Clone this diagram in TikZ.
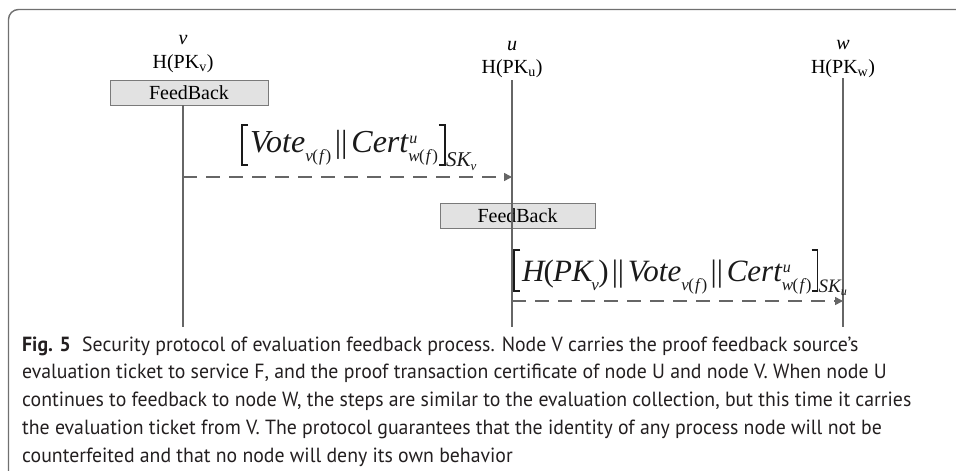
\documentclass[tikz,border=0pt]{standalone}
\usepackage{fontspec}
\setmainfont{Liberation Serif}
\newfontfamily\capfont[FakeStretch=0.965]{PT Sans}
\usetikzlibrary{arrows.meta}

\definecolor{framegray}{HTML}{707070}
\definecolor{linegray}{HTML}{666666}
\definecolor{boxedge}{HTML}{7A7A7A}
\definecolor{boxfill}{HTML}{E2E2E2}
\definecolor{captext}{HTML}{231F20}
\definecolor{inkgray}{HTML}{1A1A1A}

% small lowered / raised pieces of the message formulas
\newcommand{\lowpart}[1]{\raisebox{-0.3em}{\fontsize{17}{17}\selectfont #1}}
\newcommand{\highlow}[2]{\rlap{\raisebox{0.26em}{\fontsize{16}{16}\selectfont\hspace{1pt}#1}}\raisebox{-0.3em}{\fontsize{17}{17}\selectfont #2}}
\newcommand{\lp}{\kern-0.03em{\upshape(}\kern-0.03em}
\newcommand{\rp}{\kern-0.02em{\upshape)}\kern-0.02em}
\newcommand{\fpar}{\lp\hspace{0.1em}f\hspace{0.12em}\rp}
\newcommand{\cat}{{\upshape\hspace{0.12em}||\hspace{0.12em}}}

\tikzset{
  frame/.style={draw=framegray, line width=1.4pt, rounded corners=10pt},
  life/.style={draw=linegray, line width=2pt},
  boxstyle/.style={draw=boxedge, fill=boxfill, line width=0.9pt,
    minimum height=25pt, inner sep=0pt, font=\fontsize{20}{22}\selectfont},
  lbl/.style={inner sep=0pt, font=\fontsize{20}{22}\selectfont},
  msg/.style={draw=linegray, line width=1.6pt, dash pattern=on 14pt off 9pt,
    -{Triangle[length=8pt,width=8pt]}},
  formula/.style={anchor=base west, inner sep=0pt, text=inkgray,
    font=\fontsize{32}{33}\selectfont\itshape},
  keypart/.style={anchor=base west, inner sep=0pt, text=inkgray,
    font=\fontsize{21}{21}\selectfont\itshape},
  brk/.style={draw=inkgray, line width=1.2pt},
  capline/.style={anchor=base west, inner sep=0pt, text=captext,
    font=\capfont\fontsize{20.5}{24}\selectfont}
}

\begin{document}
\begin{tikzpicture}[x=1pt,y=-1pt]
\useasboundingbox (0,0) rectangle (956,471);

% open frame round the figure
\draw[frame] (8.5,475) -- (8.5,9.5) -- (960,9.5);

% participants
\node[lbl] (vname) at (183,40) {\textit{v}};
\node[lbl] (vkey)  at (183,64) {H(PK\textsubscript{v})};
\node[lbl] (uname) at (512,46) {\textit{u}};
\node[lbl] (ukey)  at (512,69) {H(PK\textsubscript{u})};
\node[lbl] (wname) at (843,45) {\textit{w}};
\node[lbl] (wkey)  at (843,69) {H(PK\textsubscript{w})};

% activity boxes
\node[boxstyle, minimum width=158pt] (vbox) at (189,92.5) {FeedBack};
\node[boxstyle, minimum width=155pt] (ubox) at (517.5,215.5) {FeedBack};

% lifelines
\coordinate (vtop) at (183,105);
\coordinate (vbot) at (183,327);
\coordinate (utop) at (512,80);
\coordinate (ubot) at (512,327);
\coordinate (wtop) at (843,78);
\coordinate (wbot) at (843,327);
\draw[life] (vtop) -- (vbot);
\draw[life] (utop) -- (ubot);
\draw[life] (wtop) -- (wbot);

% messages
\coordinate (m1s) at (183,177);
\coordinate (m1e) at (512,177);
\coordinate (m2s) at (512,301);
\coordinate (m2e) at (843,301);
\draw[msg] (m1s) -- (m1e);
\draw[msg] (m2s) -- (m2e);

% first message: [Vote || Cert]_{SK_v}
\coordinate (b1top) at (242,125);
\coordinate (b1bot) at (242,165);
\coordinate (k1base) at (0,166);
\node[formula] (f1) at (250,152)
  {Vote\lowpart{v\fpar}\cat Cert\highlow{u}{w\fpar}};
\draw[brk] ([xshift=6pt]b1top) -- (b1top) -- (b1bot) -- ([xshift=6pt]b1bot);
\path (f1.east) ++(7,0) coordinate (r1);
\draw[brk] (r1 |- b1top) ++(-6,0) -- (r1 |- b1top) -- (r1 |- b1bot) -- ++(-6,0);
\node[keypart] (k1) at (r1 |- k1base) {\hspace{1pt}SK\raisebox{-0.2em}{\fontsize{13}{13}\selectfont v}};

% second message: [H(PK_v) || Vote || Cert]_{SK_u}
\coordinate (b2top) at (514,250);
\coordinate (b2bot) at (514,291);
\coordinate (k2base) at (0,292);
\node[formula, font=\fontsize{31}{32}\selectfont\itshape] (f2) at (522,281)
  {H\lp PK\kern-0.04em\lowpart{v}\rp\cat Vote\lowpart{v\fpar}\cat Cert\highlow{u}{w\fpar}};
\draw[brk] ([xshift=6pt]b2top) -- (b2top) -- (b2bot) -- ([xshift=6pt]b2bot);
\path (f2.east) ++(6,0) coordinate (r2);
\draw[brk] (r2 |- b2top) ++(-6,0) -- (r2 |- b2top) -- (r2 |- b2bot) -- ++(-6,0);
\node[keypart, font=\fontsize{19}{19}\selectfont\itshape] (k2) at (r2 |- k2base) {\hspace{1pt}SK\raisebox{-0.2em}{\fontsize{12}{12}\selectfont u}};

% caption
\node[capline] (c1) at (22,351) {\textbf{Fig. 5}\hspace{0.55em}Security protocol of evaluation feedback process. Node V carries the proof feedback source’s};
\node[capline] (c2) at (22,378.75) {evaluation ticket to service F, and the proof transaction certificate of node U and node V. When node U};
\node[capline] (c3) at (22,406.5) {continues to feedback to node W, the steps are similar to the evaluation collection, but this time it carries};
\node[capline] (c4) at (22,434.25) {the evaluation ticket from V. The protocol guarantees that the identity of any process node will not be};
\node[capline] (c5) at (22,462) {counterfeited and that no node will deny its own behavior};
\end{tikzpicture}
\end{document}
